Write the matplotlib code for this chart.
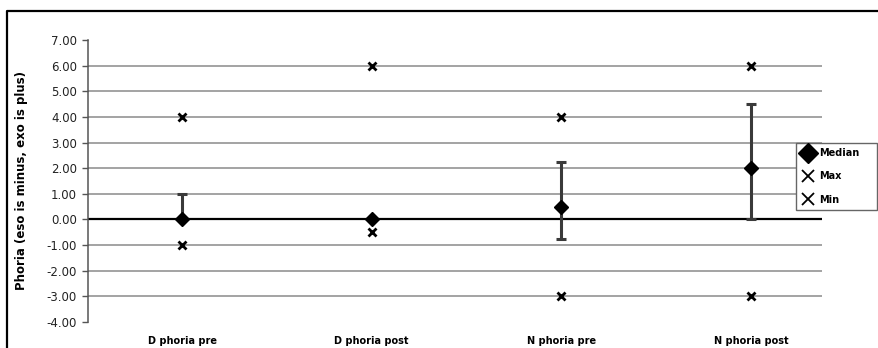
import matplotlib.pyplot as plt
from matplotlib.lines import Line2D

# ============================================================
# DADOS
# ============================================================

categories = ["D phoria pre", "D phoria post", "N phoria pre", "N phoria post"]
median = [0.0, 0.0, 0.5, 2.0]
q_low = [0.0, 0.0, -0.75, 0.0]
q_high = [1.0, 0.0, 2.25, 4.5]
max_vals = [4.0, 6.0, 4.0, 6.0]
min_vals = [-1.0, -0.5, -3.0, -3.0]
yticks = [7, 6, 5, 4, 3, 2, 1, 0, -1, -2, -3, -4]

# ============================================================
# FIGURA
# ============================================================

W, H = 879, 348
fig = plt.figure(figsize=(W / 100, H / 100), dpi=100)
ax = fig.add_axes([88 / W, 1 - 322 / H, (822 - 88) / W, (322 - 40) / H])

x = list(range(len(categories)))

# grade
for v in yticks:
    if v in (7, -4):
        continue
    if v == 0:
        ax.axhline(v, color="black", lw=1.6, zorder=2)
    else:
        ax.axhline(v, color="#8a8a8a", lw=1.1, zorder=1)

# barras de erro (quartis)
lower = [m - lo for m, lo in zip(median, q_low)]
upper = [hi - m for m, hi in zip(median, q_high)]
ax.errorbar(x, median, yerr=[lower, upper], fmt="none",
            ecolor="#3a3a3a", elinewidth=2.2, capsize=3.5, capthick=2.2, zorder=3)

ax.plot(x, median, ls="none", marker="D", ms=7.5, color="black", zorder=5)
ax.plot(x, max_vals, ls="none", marker="x", ms=5.5, mew=2, color="black", zorder=4)
ax.plot(x, min_vals, ls="none", marker="x", ms=5.5, mew=2, color="black", zorder=4)

# ============================================================
# EIXOS
# ============================================================

ax.set_ylim(-4, 7)
ax.set_xlim(-0.496, 3.374)
ax.set_yticks(yticks)
ax.set_yticklabels([f"{v:.2f}" for v in yticks], fontsize=8.5, color="#222222")
ax.set_xticks(x)
ax.set_xticklabels(categories, fontsize=7, fontweight="bold")
ax.tick_params(axis="x", length=0, pad=10)
ax.tick_params(axis="y", direction="out", length=4, width=1, color="#555555", pad=4)

for s in ["top", "right", "bottom"]:
    ax.spines[s].set_visible(False)
ax.spines["left"].set_color("#555555")
ax.spines["left"].set_linewidth(1.1)

ax.set_ylabel("Phoria (eso is minus, exo is plus)", fontsize=8.5, fontweight="bold")
ax.yaxis.set_label_coords(-60 / (822 - 88), 0.5)

# ============================================================
# LEGENDA
# ============================================================

handles = [
    Line2D([], [], ls="none", marker="D", ms=10, color="black"),
    Line2D([], [], ls="none", marker="x", ms=9, mew=1.3, color="black"),
    Line2D([], [], ls="none", marker="x", ms=9, mew=1.3, color="black"),
]
leg = fig.legend(handles, ["Median", "Max", "Min"], loc="upper left",
                 bbox_to_anchor=(796 / W, 1 - 213 / H, 81 / W, 70 / H),
                 mode="expand", borderaxespad=0,
                 fancybox=False, framealpha=1, edgecolor="#666666",
                 prop={"size": 7, "weight": "bold"}, handletextpad=0.4,
                 handlelength=1.4, labelspacing=1.35, borderpad=0.55)
leg.get_frame().set_linewidth(1.0)

# moldura
fig.add_artist(Line2D([7 / W, 7 / W, 1], [0, 1 - 11 / H, 1 - 11 / H],
                      transform=fig.transFigure, color="black", lw=1.6))

fig.savefig("out.png", dpi=100)
